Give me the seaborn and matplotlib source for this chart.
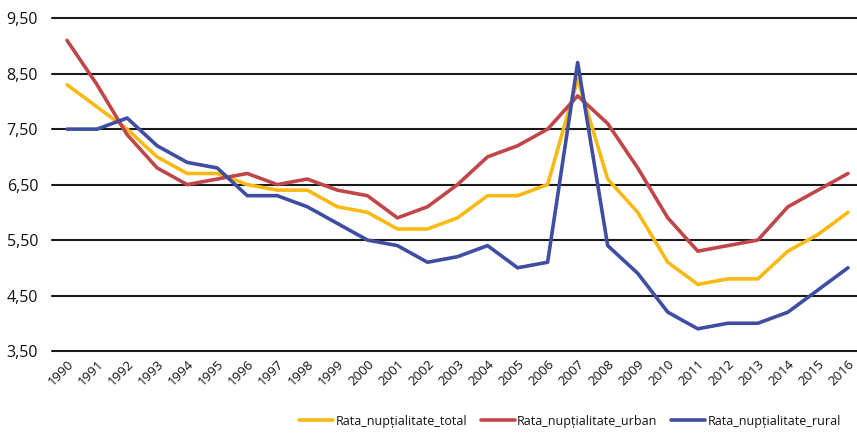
import matplotlib
matplotlib.use("Agg")
import matplotlib.pyplot as plt
import seaborn as sns
import pandas as pd
from matplotlib.ticker import FuncFormatter

years = list(range(1990, 2017))
total = [8.3, 7.9, 7.5, 7.0, 6.7, 6.7, 6.5, 6.4, 6.4, 6.1, 6.0, 5.7, 5.7, 5.9, 6.3, 6.3, 6.5,
         8.4, 6.6, 6.0, 5.1, 4.7, 4.8, 4.8, 5.3, 5.6, 6.0]
urban = [9.1, 8.3, 7.4, 6.8, 6.5, 6.6, 6.7, 6.5, 6.6, 6.4, 6.3, 5.9, 6.1, 6.5, 7.0, 7.2, 7.5,
         8.1, 7.6, 6.8, 5.9, 5.3, 5.4, 5.5, 6.1, 6.4, 6.7]
rural = [7.5, 7.5, 7.7, 7.2, 6.9, 6.8, 6.3, 6.3, 6.1, 5.8, 5.5, 5.4, 5.1, 5.2, 5.4, 5.0, 5.1,
         8.7, 5.4, 4.9, 4.2, 3.9, 4.0, 4.0, 4.2, 4.6, 5.0]
series_names = ["Rata_nupțialitate_total", "Rata_nupțialitate_urban", "Rata_nupțialitate_rural"]
colors = ["#F7B912", "#C0464A", "#3F4DA3"]
yticks = [3.5, 4.5, 5.5, 6.5, 7.5, 8.5, 9.5]

rows = []
for name, vals in zip(series_names, [total, urban, rural]):
    for i, (y, v) in enumerate(zip(years, vals)):
        rows.append({"idx": i, "year": str(y), "value": v, "serie": name})
df = pd.DataFrame(rows)

sns.set_theme(style="white")
plt.rcParams['font.family'] = ['Open Sans', 'DejaVu Sans']

fig = plt.figure(figsize=(8.57, 4.33), dpi=100)
ax = fig.add_axes([0.0607, 0.1894, 0.9393, 0.7686])

for y in yticks:
    ax.axhline(y, color="#1a1a1a", lw=1.5, zorder=0)

sns.lineplot(data=df, x="idx", y="value", hue="serie", hue_order=series_names,
             palette=colors, linewidth=2.6, ax=ax, legend=True, sort=False)

ax.set_xlim(-0.5, 26.3)
ax.set_ylim(3.5, 9.5)
ax.set_yticks(yticks)
ax.yaxis.set_major_formatter(FuncFormatter(lambda v, p: f"{v:.2f}".replace(".", ",")))
ax.set_xticks(range(len(years)))
ax.set_xticklabels([str(y) for y in years], rotation=45, ha="right", rotation_mode="anchor")
ax.tick_params(axis="x", labelsize=9.5, pad=5, length=0, labelcolor="#111111")
ax.tick_params(axis="y", labelsize=11.5, pad=10, length=0, labelcolor="#111111")
ax.set_xlabel("")
ax.set_ylabel("")
for s in ax.spines.values():
    s.set_visible(False)
for ln in ax.lines:
    ln.set_clip_on(False)

handles, labels = ax.get_legend_handles_labels()
ax.get_legend().remove()
leg = fig.legend(handles, labels, loc="center", bbox_to_anchor=(570 / 857, 1 - 421 / 433),
                 ncol=3, frameon=False, fontsize=9, handlelength=2.7, handletextpad=0.2,
                 columnspacing=1.1)
for t in leg.get_texts():
    t.set_color("#111111")

fig.savefig("out.png", dpi=100, facecolor="white")
